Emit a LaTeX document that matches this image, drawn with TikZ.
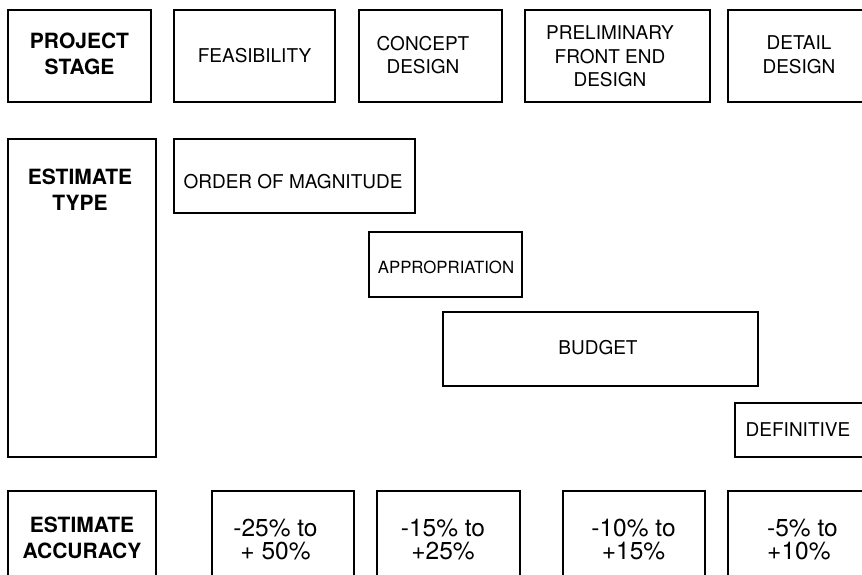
\documentclass[tikz,border=0pt]{standalone}
\usepackage{fontspec}
\setmainfont{TeX Gyre Heros}
\usetikzlibrary{fit}
\begin{document}
\begin{tikzpicture}[x=1pt,y=-1pt,
  box/.style={draw, line width=1.3pt, inner sep=0pt, outer sep=0pt},
  reg/.style={font=\fontsize{19}{23.5}\selectfont, align=center, inner sep=0pt},
  small/.style={font=\fontsize{16.8}{20}\selectfont, align=center, inner sep=0pt},
  hd/.style={font=\fontsize{21}{26}\selectfont\bfseries, align=center, inner sep=0pt},
  accf/.style={font=\fontsize{24.5}{23}\selectfont, align=center, inner sep=0pt}]
\useasboundingbox (0,0) rectangle (862,574);
\clip (0,0) rectangle (862,574);

% Row 1: project stages
\node[box, fit={(8,10) (151,102)}] (stageBox) {};
\node[box, fit={(174,10) (335,102)}] (feasBox) {};
\node[box, fit={(359,10) (502,102)}] (conceptBox) {};
\node[box, fit={(525,10) (710,102)}] (prelimBox) {};
\node[box, fit={(728,10) (900,102)}] (detailBox) {};

\node[hd] (stageTxt) at (79.5,54) {PROJECT\\STAGE};
\node[reg] (feasTxt) at (254.5,55.5) {FEASIBILITY};
\node[reg] (conceptTxt) at (423,55) {CONCEPT\\DESIGN};
\node[reg] (prelimTxt) at (610,56.5) {PRELIMINARY\\FRONT END\\DESIGN};
\node[reg] (detailTxt) at (799,54.5) {DETAIL\\DESIGN};

% Row 2: estimate types
\node[box, fit={(8,139) (156,457)}] (typeBox) {};
\node[box, fit={(174,139) (415,213)}] (omBox) {};
\node[box, fit={(369,232) (522,297)}] (approBox) {};
\node[box, fit={(443,312) (758,386)}] (budgetBox) {};
\node[box, fit={(735,403) (900,457)}] (defBox) {};

\node[hd] (typeTxt) at (80,189.5) {ESTIMATE\\TYPE};
\node[reg] (omTxt) at (293,181.5) {ORDER OF MAGNITUDE};
\node[small] (approTxt) at (446,267.5) {APPROPRIATION};
\node[reg] (budgetTxt) at (598,347.5) {BUDGET};
\node[reg] (defTxt) at (798,430) {DEFINITIVE};

% Row 3: estimate accuracy
\node[box, fit={(8,491) (156,620)}] (accBox) {};
\node[box, fit={(212,491) (354,620)}] (aOneBox) {};
\node[box, fit={(377,491) (520,620)}] (aTwoBox) {};
\node[box, fit={(563,491) (705,620)}] (aThreeBox) {};
\node[box, fit={(728,491) (900,620)}] (aFourBox) {};

\node[hd] (accTxt) at (82,538) {ESTIMATE\\ACCURACY};
\node[accf] (aOneTxt) at (275.5,540) {-25\% to\\+ 50\%};
\node[accf] (aTwoTxt) at (443,540) {-15\% to\\+25\%};
\node[accf] (aThreeTxt) at (633.5,540) {-10\% to\\+15\%};
\node[accf, align=left, anchor=west] (aFourTxt) at (767,540) {-5\% to\\+10\%};
\end{tikzpicture}
\end{document}
